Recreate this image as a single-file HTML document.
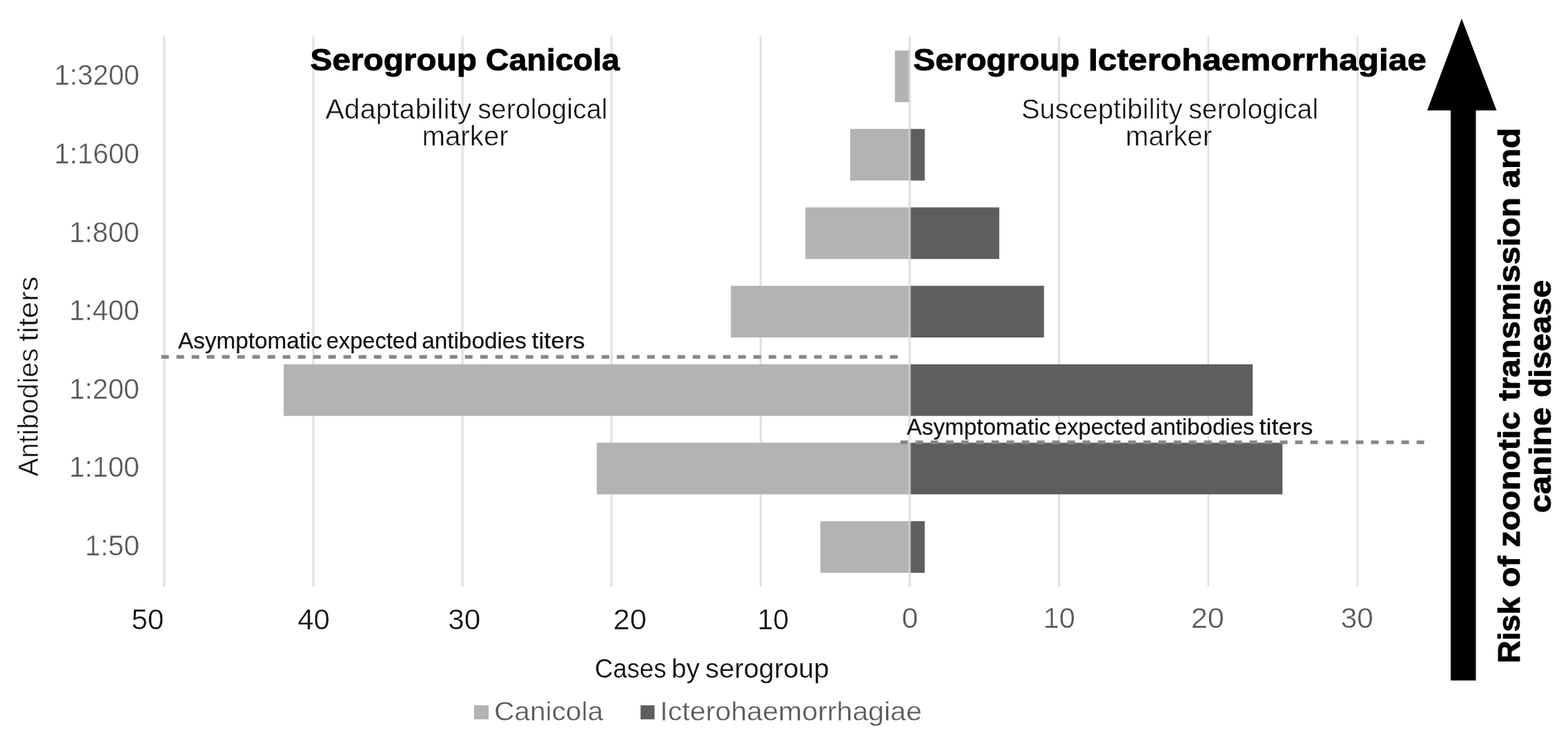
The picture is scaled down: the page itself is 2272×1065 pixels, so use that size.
<!DOCTYPE html>
<html lang="en"><head><meta charset="utf-8"><title>Antibody titers by serogroup</title>
<style>
html,body{margin:0;padding:0;background:#fff;}
body{width:2272px;height:1065px;overflow:hidden;}
svg{display:block;filter:blur(0.55px);}
text{font-family:"Liberation Sans",sans-serif;}
.b{font-weight:700;}
</style></head><body>
<svg width="2272" height="1065" viewBox="0 0 2272 1065">
<rect x="0" y="0" width="2272" height="1065" fill="#ffffff"/>
<g id="grid">
<rect x="236.3" y="53" width="3.4" height="797" fill="#e2e2e2"/>
<rect x="452.3" y="53" width="3.4" height="797" fill="#e2e2e2"/>
<rect x="668.4" y="53" width="3.4" height="797" fill="#e2e2e2"/>
<rect x="884.4" y="53" width="3.4" height="797" fill="#e2e2e2"/>
<rect x="1100.6" y="53" width="3.4" height="797" fill="#e2e2e2"/>
<rect x="1316.4" y="53" width="3.4" height="797" fill="#e2e2e2"/>
<rect x="1532.8" y="53" width="3.4" height="797" fill="#e2e2e2"/>
<rect x="1749.6" y="53" width="2.4" height="797" fill="#dfdfdf"/>
<rect x="1965.8" y="53" width="2.4" height="797" fill="#dfdfdf"/>
</g>
<g id="bars">
<rect x="1296.7" y="73.15" width="21.6" height="74.8" fill="#b3b3b3"/>
<rect x="1231.9" y="186.82" width="86.4" height="74.8" fill="#b3b3b3"/>
<rect x="1318.3" y="186.82" width="21.6" height="74.8" fill="#5e5e5e"/>
<rect x="1167.1" y="300.49" width="151.2" height="74.8" fill="#b3b3b3"/>
<rect x="1318.3" y="300.49" width="129.6" height="74.8" fill="#5e5e5e"/>
<rect x="1059.1" y="414.16" width="259.2" height="74.8" fill="#b3b3b3"/>
<rect x="1318.3" y="414.16" width="194.4" height="74.8" fill="#5e5e5e"/>
<rect x="411.1" y="527.83" width="907.2" height="74.8" fill="#b3b3b3"/>
<rect x="1318.3" y="527.83" width="496.8" height="74.8" fill="#5e5e5e"/>
<rect x="864.7" y="641.5" width="453.6" height="74.8" fill="#b3b3b3"/>
<rect x="1318.3" y="641.5" width="540" height="74.8" fill="#5e5e5e"/>
<rect x="1188.7" y="755.17" width="129.6" height="74.8" fill="#b3b3b3"/>
<rect x="1318.3" y="755.17" width="21.6" height="74.8" fill="#5e5e5e"/>
</g>
<rect x="1316.2" y="53" width="3.8" height="797" fill="#e4e4e4" fill-opacity="0.55"/>
<path id="dash1" d="M233.7 517.2H1300.8" stroke="#868686" stroke-width="5.2" stroke-dasharray="11 11" fill="none"/>
<path id="dash2" d="M1304.6 640.9H2064" stroke="#868686" stroke-width="5.2" stroke-dasharray="11 11" fill="none"/>
<path id="arrow" d="M2118 27L2168.5 160H2138.5V986H2102V160H2068Z" fill="#000000"/>
<g id="ylabels">
<text font-size="42.4" fill="#595959" stroke="#ffffff" stroke-width="0.4" stroke-linejoin="round"><tspan x="78.57" y="123.3" textLength="123.49" lengthAdjust="spacingAndGlyphs">1:3200</tspan></text>
<text font-size="42.4" fill="#595959" stroke="#ffffff" stroke-width="0.4" stroke-linejoin="round"><tspan x="78.57" y="236.9" textLength="123.49" lengthAdjust="spacingAndGlyphs">1:1600</tspan></text>
<text font-size="42.4" fill="#595959" stroke="#ffffff" stroke-width="0.4" stroke-linejoin="round"><tspan x="100.15" y="350.5" textLength="101.88" lengthAdjust="spacingAndGlyphs">1:800</tspan></text>
<text font-size="42.4" fill="#595959" stroke="#ffffff" stroke-width="0.4" stroke-linejoin="round"><tspan x="100.15" y="464.2" textLength="101.88" lengthAdjust="spacingAndGlyphs">1:400</tspan></text>
<text font-size="42.4" fill="#595959" stroke="#ffffff" stroke-width="0.4" stroke-linejoin="round"><tspan x="100.15" y="577.8" textLength="101.88" lengthAdjust="spacingAndGlyphs">1:200</tspan></text>
<text font-size="42.4" fill="#595959" stroke="#ffffff" stroke-width="0.4" stroke-linejoin="round"><tspan x="100.15" y="691.4" textLength="101.88" lengthAdjust="spacingAndGlyphs">1:100</tspan></text>
<text font-size="42.4" fill="#595959" stroke="#ffffff" stroke-width="0.4" stroke-linejoin="round"><tspan x="122.95" y="805" textLength="79.13" lengthAdjust="spacingAndGlyphs">1:50</tspan></text>
</g>
<g id="xlabels">
<text font-size="42.2" fill="#111111" stroke="#ffffff" stroke-width="0.4" stroke-linejoin="round"><tspan x="190.61" y="911.9" textLength="46.86" lengthAdjust="spacingAndGlyphs">50</tspan></text>
<text font-size="42.2" fill="#111111" stroke="#ffffff" stroke-width="0.4" stroke-linejoin="round"><tspan x="431.26" y="911.9" textLength="46.61" lengthAdjust="spacingAndGlyphs">40</tspan></text>
<text font-size="42.2" fill="#111111" stroke="#ffffff" stroke-width="0.4" stroke-linejoin="round"><tspan x="649.22" y="911.9" textLength="46.86" lengthAdjust="spacingAndGlyphs">30</tspan></text>
<text font-size="42.2" fill="#111111" stroke="#ffffff" stroke-width="0.4" stroke-linejoin="round"><tspan x="888.63" y="911.9" textLength="48.3" lengthAdjust="spacingAndGlyphs">20</tspan></text>
<text font-size="42.2" fill="#111111" stroke="#ffffff" stroke-width="0.4" stroke-linejoin="round"><tspan x="1097.55" y="911.9" textLength="45.27" lengthAdjust="spacingAndGlyphs">10</tspan></text>
<text font-size="41.8" fill="#595959" stroke="#ffffff" stroke-width="0.4" stroke-linejoin="round"><tspan x="1306.71" y="909.5" textLength="23.53" lengthAdjust="spacingAndGlyphs">0</tspan></text>
<text font-size="41.8" fill="#595959" stroke="#ffffff" stroke-width="0.4" stroke-linejoin="round"><tspan x="1511.69" y="909.5" textLength="46.17" lengthAdjust="spacingAndGlyphs">10</tspan></text>
<text font-size="41.8" fill="#595959" stroke="#ffffff" stroke-width="0.4" stroke-linejoin="round"><tspan x="1725.84" y="909.5" textLength="48.08" lengthAdjust="spacingAndGlyphs">20</tspan></text>
<text font-size="41.8" fill="#595959" stroke="#ffffff" stroke-width="0.4" stroke-linejoin="round"><tspan x="1942.71" y="909.5" textLength="47.18" lengthAdjust="spacingAndGlyphs">30</tspan></text>
</g>
<text font-size="44.3" fill="#000" stroke="#000" stroke-width="0.9" stroke-linejoin="round" class="b"><tspan x="449.62" y="102.05" textLength="241.18" lengthAdjust="spacingAndGlyphs">Serogroup</tspan> <tspan x="703.79" y="102.05" textLength="194.14" lengthAdjust="spacingAndGlyphs">Canicola</tspan></text>
<text font-size="44.3" fill="#000" stroke="#000" stroke-width="0.9" stroke-linejoin="round" class="b"><tspan x="1323.32" y="102.25" textLength="241.18" lengthAdjust="spacingAndGlyphs">Serogroup</tspan> <tspan x="1577.11" y="102.25" textLength="489.67" lengthAdjust="spacingAndGlyphs">Icterohaemorrhagiae</tspan></text>
<text font-size="40.4" fill="#111111" stroke="#ffffff" stroke-width="0.5" stroke-linejoin="round"><tspan x="471.55" y="171.55" textLength="211.81" lengthAdjust="spacingAndGlyphs">Adaptability</tspan> <tspan x="692.17" y="171.55" textLength="188.16" lengthAdjust="spacingAndGlyphs">serological</tspan></text>
<text font-size="40.4" fill="#111111" stroke="#ffffff" stroke-width="0.5" stroke-linejoin="round"><tspan x="611.43" y="210.65" textLength="125.28" lengthAdjust="spacingAndGlyphs">marker</tspan></text>
<text font-size="40.4" fill="#111111" stroke="#ffffff" stroke-width="0.5" stroke-linejoin="round"><tspan x="1479.95" y="171.55" textLength="233.45" lengthAdjust="spacingAndGlyphs">Susceptibility</tspan> <tspan x="1722.17" y="171.55" textLength="188.05" lengthAdjust="spacingAndGlyphs">serological</tspan></text>
<text font-size="40.4" fill="#111111" stroke="#ffffff" stroke-width="0.5" stroke-linejoin="round"><tspan x="1630.83" y="210.65" textLength="125.28" lengthAdjust="spacingAndGlyphs">marker</tspan></text>
<text font-size="33.2" fill="#111111" stroke="#111111" stroke-width="0.2" stroke-linejoin="round"><tspan x="258.12" y="505.3" textLength="208.88" lengthAdjust="spacingAndGlyphs">Asymptomatic</tspan> <tspan x="472.71" y="505.3" textLength="132.47" lengthAdjust="spacingAndGlyphs">expected</tspan> <tspan x="611.18" y="505.3" textLength="151.86" lengthAdjust="spacingAndGlyphs">antibodies</tspan> <tspan x="770.57" y="505.3" textLength="76.96" lengthAdjust="spacingAndGlyphs">titers</tspan></text>
<text font-size="33.2" fill="#111111" stroke="#111111" stroke-width="0.2" stroke-linejoin="round"><tspan x="1313.72" y="630" textLength="208.48" lengthAdjust="spacingAndGlyphs">Asymptomatic</tspan> <tspan x="1528.11" y="630" textLength="132.57" lengthAdjust="spacingAndGlyphs">expected</tspan> <tspan x="1666.79" y="630" textLength="150.84" lengthAdjust="spacingAndGlyphs">antibodies</tspan> <tspan x="1824.56" y="630" textLength="77.78" lengthAdjust="spacingAndGlyphs">titers</tspan></text>
<text font-size="39.2" fill="#111111" stroke="#ffffff" stroke-width="0.2" stroke-linejoin="round"><tspan x="861.87" y="981.7" textLength="103.59" lengthAdjust="spacingAndGlyphs">Cases</tspan> <tspan x="973.09" y="981.7" textLength="40.86" lengthAdjust="spacingAndGlyphs">by</tspan> <tspan x="1022.11" y="981.7" textLength="179.21" lengthAdjust="spacingAndGlyphs">serogroup</tspan></text>
<rect x="687" y="1022" width="21" height="20.3" fill="#b3b3b3"/>
<text font-size="39" fill="#595959" stroke="#ffffff" stroke-width="0.4" stroke-linejoin="round"><tspan x="715.97" y="1043.8" textLength="158.08" lengthAdjust="spacingAndGlyphs">Canicola</tspan></text>
<rect x="928.2" y="1022" width="20.2" height="20.3" fill="#5e5e5e"/>
<text font-size="39" fill="#595959" stroke="#ffffff" stroke-width="0.4" stroke-linejoin="round"><tspan x="956.3" y="1043.8" textLength="379.46" lengthAdjust="spacingAndGlyphs">Icterohaemorrhagiae</tspan></text>
<text transform="translate(55.05 0) rotate(-90)" font-size="40.4" fill="#111111" stroke="#ffffff" stroke-width="0.5" stroke-linejoin="round"><tspan x="-690.25" y="0" textLength="185.49" lengthAdjust="spacingAndGlyphs">Antibodies</tspan> <tspan x="-495.11" y="0" textLength="94.67" lengthAdjust="spacingAndGlyphs">titers</tspan></text>
<text transform="translate(2202.35 0) rotate(-90)" font-size="44.2" fill="#000" stroke="#000" stroke-width="0.9" stroke-linejoin="round" class="b"><tspan x="-961.12" y="0" textLength="95.96" lengthAdjust="spacingAndGlyphs">Risk</tspan> <tspan x="-850.98" y="0" textLength="45.47" lengthAdjust="spacingAndGlyphs">of</tspan> <tspan x="-793.06" y="0" textLength="196.75" lengthAdjust="spacingAndGlyphs">zoonotic</tspan> <tspan x="-580.84" y="0" textLength="294.62" lengthAdjust="spacingAndGlyphs">transmission</tspan> <tspan x="-272.43" y="0" textLength="87.49" lengthAdjust="spacingAndGlyphs">and</tspan></text>
<text transform="translate(2247.15 0) rotate(-90)" font-size="44.2" fill="#000" stroke="#000" stroke-width="0.9" stroke-linejoin="round" class="b"><tspan x="-743.18" y="0" textLength="152.93" lengthAdjust="spacingAndGlyphs">canine</tspan> <tspan x="-575.8" y="0" textLength="169.95" lengthAdjust="spacingAndGlyphs">disease</tspan></text>
</svg></body></html>
